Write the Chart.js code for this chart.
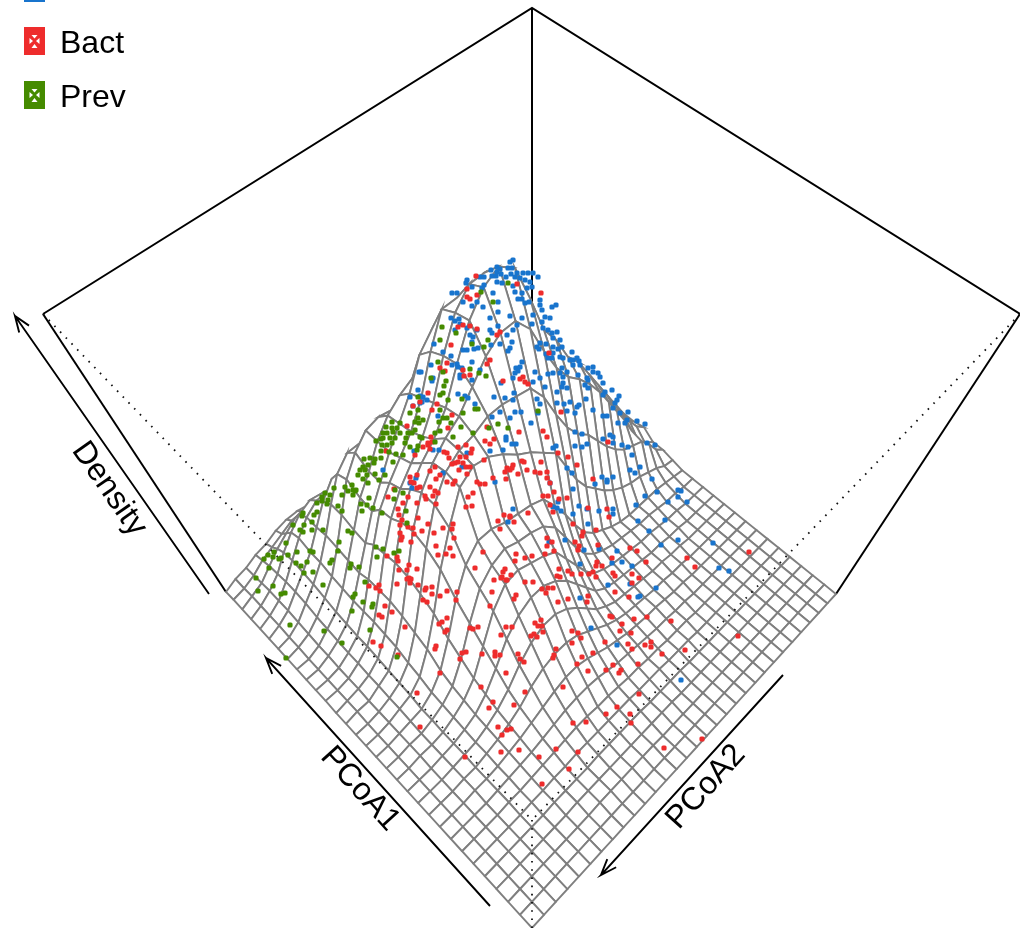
<!DOCTYPE html>
<html>
<head>
<meta charset="utf-8">
<style>
  html, body { margin: 0; padding: 0; background: #fff; overflow: hidden; }
  canvas { display: block; }
</style>
<script src="https://cdn.jsdelivr.net/npm/chart.js@4/dist/chart.umd.js"></script>
</head>
<body>
<canvas id="chart" width="1020" height="928"></canvas>
<script>
// Density surface, percent of the box height. Rows run along PCoA1, columns along PCoA2.
const densityRows = [
  [0,0,0,0,0,0,0,0,0,0,0,0,0,0,0,0,0,0,0,0,0,0,0,0,0,0,0,0,0,0,0],
  [0,0,0,0,0,0,0,0,0,0,0,0,0,0,0,0,0,0,0,0,0,0,0,0,0,0,0,0,0,0,0],
  [0,0,0,0,0,0,0,0,1,1,1,1,1,1,0,0,0,0,0,0,0,0,0,0,0,0,0,0,0,0,0],
  [0,0,0,0,0,0,0,1,1,1,1,1,1,1,1,1,1,0,0,0,0,0,0,0,0,0,0,0,0,0,0],
  [0,0,0,0,0,0,1,1,1,1,2,2,2,2,2,1,1,1,1,0,0,0,0,0,0,0,0,0,0,0,0],
  [0,0,0,0,0,1,1,2,2,3,3,3,3,3,3,2,2,2,1,1,1,0,0,0,0,0,0,0,0,0,0],
  [0,0,0,0,1,1,2,3,4,5,6,6,5,5,4,3,3,2,2,1,1,1,0,0,0,0,0,0,0,0,0],
  [0,0,0,0,1,2,3,4,6,8,10,11,11,10,8,6,5,4,3,2,2,1,1,0,0,0,0,0,0,0,0],
  [0,0,0,1,1,2,4,6,9,12,15,17,17,15,12,9,7,5,4,3,3,2,1,1,0,0,0,0,0,0,0],
  [0,0,0,1,1,3,5,8,12,18,22,24,24,22,18,14,10,7,5,4,3,2,2,1,1,0,0,0,0,0,0],
  [0,0,0,1,2,3,6,10,16,24,30,33,33,30,25,19,13,9,6,5,4,3,2,2,1,1,0,0,0,0,0],
  [0,0,0,1,2,4,7,13,22,32,38,41,41,38,33,26,19,12,8,6,5,4,3,2,2,1,1,0,0,0,0],
  [0,0,1,1,2,5,9,16,28,40,47,48,46,44,41,33,25,17,11,8,6,5,4,3,3,2,1,1,0,0,0],
  [0,0,1,1,3,6,11,21,34,45,50,52,50,49,47,42,33,24,16,11,8,6,5,4,3,3,2,1,1,0,0],
  [0,0,1,2,3,7,14,26,40,50,55,55,53,52,51,49,42,34,25,17,12,9,6,4,3,3,3,3,2,1,0],
  [0,0,1,3,5,10,20,33,48,60,70,73,72,69,65,62,58,54,45,36,29,24,19,15,12,10,9,7,5,2,1],
  [0,0,1,3,6,12,23,37,52,64,71,74,75,77,77,76,75,69,60,52,46,42,36,30,25,21,19,17,12,6,2],
  [0,1,1,4,7,15,26,40,54,64,70,74,77,82,87,90,90,85,76,68,62,58,53,47,40,33,26,18,10,5,2],
  [0,1,2,4,8,16,28,41,53,61,66,70,76,85,93,98,100,97,87,76,70,62,57,50,43,36,29,22,15,9,5],
  [1,1,2,5,9,17,28,40,50,57,62,67,74,84,92,96,96,92,84,74,68,60,55,49,42,35,28,21,14,8,4],
  [1,1,2,5,9,17,28,39,49,55,60,65,72,82,90,90,88,82,72,64,60,55,50,45,39,33,27,20,14,8,4],
  [1,1,3,6,10,17,26,35,44,51,58,64,70,78,82,80,74,68,58,52,50,47,44,41,37,33,28,22,16,10,5],
  [1,1,3,7,11,18,27,36,45,51,58,63,66,68,68,64,58,50,46,45,42,40,37,34,30,26,22,17,12,7,3],
  [1,2,4,8,13,19,28,38,48,54,58,59,58,57,54,50,45,38,35,35,32,29,26,23,20,17,13,10,6,4,2],
  [1,2,5,10,15,21,29,38,46,50,50,48,46,44,42,38,34,28,25,25,22,19,16,14,12,9,7,5,3,2,1],
  [1,3,6,11,16,21,28,35,40,40,38,36,34,32,30,27,23,19,16,14,12,10,8,7,5,4,3,2,1,1,0],
  [1,3,6,11,17,23,28,31,31,30,29,27,25,23,21,18,15,12,10,8,6,5,4,3,2,2,1,1,0,0,0],
  [1,3,6,10,16,21,25,27,26,24,22,20,18,16,14,12,10,8,6,4,3,2,1,1,0,0,0,0,0,0,0],
  [1,3,5,9,13,16,19,20,19,17,15,14,12,11,9,8,6,5,4,3,2,1,1,0,0,0,0,0,0,0,0],
  [1,2,4,7,9,11,13,13,12,11,10,9,8,7,6,5,4,3,2,2,1,1,0,0,0,0,0,0,0,0,0],
  [0,2,3,5,6,8,9,9,8,8,7,6,5,4,4,3,2,2,1,1,1,0,0,0,0,0,0,0,0,0,0]
];

// Samples, read as positions on the viewing plane
const bluePoints = [[513,260],[510,262],[491,270],[497,267],[497,272],[500,269],[508,268],[512,268],[517,273],[523,273],[528,273],[533,273],[538,277],[480,277],[484,277],[492,276],[496,276],[501,274],[506,277],[511,274],[515,277],[520,278],[525,280],[530,282],[532,287],[502,283],[497,282],[484,285],[482,288],[472,287],[467,280],[466,283],[515,292],[527,288],[522,293],[513,286],[493,293],[477,302],[463,302],[452,293],[457,293],[483,307],[472,306],[518,299],[522,299],[525,303],[529,302],[498,302],[498,312],[490,318],[540,300],[540,305],[542,310],[545,317],[550,318],[552,307],[556,305],[533,315],[532,324],[510,316],[522,318],[517,325],[513,330],[498,326],[490,330],[492,333],[542,322],[543,328],[548,330],[552,333],[557,332],[553,338],[560,340],[451,318],[455,321],[459,319],[460,324],[455,330],[467,328],[477,330],[470,335],[473,337],[472,342],[434,344],[507,335],[512,342],[500,344],[491,345],[540,343],[546,344],[537,347],[539,349],[553,347],[562,347],[558,349],[560,357],[563,358],[572,352],[510,348],[508,351],[463,350],[467,350],[474,349],[478,348],[443,352],[451,356],[546,354],[548,358],[552,358],[553,353],[570,360],[573,360],[577,358],[579,361],[573,365],[580,365],[472,362],[522,362],[431,365],[457,364],[452,365],[458,367],[462,368],[480,370],[472,380],[460,375],[460,378],[419,372],[421,372],[516,368],[520,367],[518,371],[515,373],[535,372],[548,374],[553,373],[562,368],[560,373],[567,372],[563,377],[588,368],[593,367],[593,372],[598,373],[600,377],[578,375],[587,378],[588,380],[603,383],[585,385],[588,388],[605,392],[612,390],[619,396],[603,395],[513,378],[501,383],[533,382],[540,378],[545,387],[563,383],[567,388],[562,387],[557,392],[433,378],[432,381],[418,390],[410,397],[420,396],[423,397],[422,402],[427,400],[458,394],[465,396],[468,398],[475,404],[494,397],[505,398],[513,400],[514,393],[537,399],[540,404],[557,403],[564,404],[570,402],[577,407],[579,405],[593,410],[586,399],[617,400],[615,403],[613,408],[620,413],[628,412],[637,421],[627,420],[625,423],[645,424],[618,423],[607,416],[603,416],[567,411],[575,413],[500,412],[515,412],[521,412],[492,417],[510,418],[538,413],[438,416],[413,406],[420,403],[531,423],[575,432],[582,434],[506,437],[506,440],[512,444],[516,444],[575,446],[582,447],[587,444],[553,448],[556,446],[603,439],[610,435],[613,437],[613,443],[622,445],[628,447],[647,443],[655,445],[503,450],[490,451],[467,453],[439,450],[433,450],[414,451],[632,455],[640,467],[630,470],[635,473],[567,468],[572,473],[595,484],[602,477],[607,480],[613,477],[652,479],[573,489],[645,496],[657,492],[678,490],[383,470],[416,478],[412,488],[410,483],[443,473],[462,467],[495,482],[550,483],[607,482],[681,491],[678,497],[668,502],[687,502],[558,502],[553,507],[557,508],[561,511],[579,506],[587,509],[599,511],[613,509],[613,514],[636,505],[513,509],[573,514],[508,522],[588,524],[638,521],[665,520],[649,531],[565,540],[549,542],[678,540],[661,545],[713,543],[584,550],[599,549],[617,551],[580,564],[612,563],[622,562],[632,566],[719,568],[729,571],[608,585],[630,584],[656,588],[580,598],[638,597],[640,596],[591,628],[617,645],[681,680]];
const bactPoints = [[476,276],[517,284],[467,289],[477,295],[541,293],[467,297],[470,299],[458,327],[463,325],[470,326],[477,329],[500,332],[497,335],[451,345],[549,353],[490,360],[487,364],[447,363],[440,368],[445,371],[463,370],[464,376],[470,375],[503,381],[520,379],[523,377],[525,382],[528,384],[428,393],[420,402],[437,404],[432,410],[413,406],[452,415],[561,412],[448,428],[487,427],[519,432],[543,431],[547,437],[407,426],[485,441],[490,444],[494,439],[466,445],[458,447],[472,449],[471,453],[431,437],[432,442],[428,445],[423,447],[430,449],[415,455],[444,452],[447,453],[449,458],[460,457],[466,457],[463,463],[458,462],[455,463],[452,464],[466,467],[470,467],[484,460],[558,453],[568,457],[577,465],[541,462],[522,461],[524,462],[513,465],[507,468],[505,472],[510,470],[512,468],[527,470],[535,472],[540,473],[547,472],[518,474],[506,479],[493,478],[477,482],[480,484],[485,484],[455,481],[447,482],[453,484],[467,474],[459,470],[440,475],[436,479],[430,471],[435,467],[417,475],[410,477],[411,482],[414,483],[420,487],[417,488],[394,489],[430,487],[435,491],[438,493],[388,497],[408,497],[426,499],[468,497],[473,493],[543,496],[548,496],[554,492],[559,499],[567,498],[547,478],[550,483],[593,479],[608,442],[386,451],[428,443],[403,503],[398,509],[399,515],[417,503],[425,496],[433,496],[436,504],[418,518],[428,524],[402,520],[400,525],[408,527],[413,528],[422,531],[400,533],[402,537],[414,534],[401,540],[411,542],[434,533],[443,528],[452,529],[453,524],[454,538],[466,507],[472,506],[498,521],[504,515],[500,529],[510,517],[436,546],[450,548],[438,555],[446,554],[453,556],[483,552],[387,556],[397,557],[398,561],[475,568],[399,570],[407,570],[409,565],[417,569],[503,572],[502,577],[494,580],[507,580],[409,578],[407,579],[411,579],[410,583],[397,584],[369,586],[379,585],[376,588],[380,591],[418,585],[426,588],[432,587],[425,590],[432,594],[440,596],[447,591],[457,592],[492,592],[423,600],[427,602],[456,600],[490,606],[385,606],[392,612],[379,615],[382,617],[447,618],[442,622],[439,624],[405,627],[447,630],[445,632],[470,628],[473,629],[478,627],[506,627],[501,635],[373,642],[381,646],[436,646],[435,649],[466,652],[462,653],[460,659],[482,654],[495,652],[495,656],[500,655],[398,655],[440,673],[506,673],[481,687],[417,693],[493,702],[489,708],[420,727],[498,727],[507,730],[502,735],[550,505],[553,512],[588,508],[607,509],[609,517],[510,516],[528,513],[514,522],[573,524],[596,530],[583,532],[582,536],[547,538],[552,542],[547,546],[575,542],[579,546],[578,550],[598,545],[554,551],[630,548],[637,551],[545,554],[516,554],[525,558],[532,556],[515,561],[612,558],[597,562],[596,566],[602,566],[646,562],[687,558],[749,552],[695,567],[559,569],[568,571],[572,574],[581,574],[589,574],[593,572],[596,577],[613,573],[615,576],[632,574],[639,578],[557,576],[560,577],[505,569],[501,578],[511,575],[506,580],[525,582],[533,582],[632,583],[542,589],[548,588],[553,588],[546,593],[516,595],[514,599],[615,592],[629,597],[588,596],[587,602],[568,599],[558,602],[610,616],[612,617],[634,619],[647,617],[671,621],[622,624],[541,620],[535,623],[538,626],[542,626],[512,627],[543,632],[572,631],[578,633],[581,638],[620,631],[631,633],[534,634],[531,636],[537,637],[572,643],[605,642],[628,644],[645,645],[651,642],[651,647],[632,649],[685,650],[738,636],[662,654],[556,649],[593,653],[582,657],[518,654],[520,659],[524,662],[554,655],[553,658],[577,664],[613,665],[638,664],[588,671],[606,670],[621,670],[619,673],[563,687],[525,692],[639,694],[514,705],[617,707],[606,714],[630,714],[631,723],[573,723],[586,722],[511,729],[702,739],[556,749],[664,748],[519,750],[578,752],[539,757],[465,757],[501,752],[569,769],[542,784]];
const prevPoints = [[481,292],[508,283],[493,302],[442,327],[456,333],[440,340],[488,340],[484,347],[472,344],[438,362],[470,369],[479,373],[486,376],[443,372],[446,381],[444,386],[431,378],[440,395],[443,393],[448,400],[462,399],[418,397],[440,410],[410,413],[418,410],[443,418],[447,418],[439,422],[451,423],[463,413],[475,409],[478,409],[538,411],[498,424],[508,428],[489,428],[461,427],[473,433],[453,437],[418,418],[415,422],[419,423],[423,420],[392,422],[400,423],[386,427],[392,428],[397,428],[393,432],[400,433],[383,433],[387,433],[412,433],[415,430],[408,433],[440,431],[435,433],[420,437],[422,438],[395,438],[390,438],[383,438],[406,438],[376,441],[381,439],[392,443],[382,445],[387,445],[405,443],[410,447],[418,446],[417,450],[435,442],[381,451],[389,452],[396,454],[403,455],[364,459],[370,458],[375,459],[381,458],[368,465],[374,463],[393,462],[363,467],[360,470],[365,470],[358,475],[367,475],[363,479],[375,474],[385,475],[379,480],[368,483],[345,487],[352,485],[353,490],[348,491],[355,491],[395,490],[403,493],[369,498],[334,488],[356,490],[353,495],[342,495],[330,495],[325,493],[322,497],[328,500],[322,501],[317,503],[327,504],[338,506],[361,504],[367,505],[373,508],[362,511],[342,511],[382,513],[394,499],[317,512],[314,515],[303,513],[302,516],[312,522],[293,525],[304,525],[300,530],[303,532],[312,530],[323,530],[348,531],[352,533],[406,511],[407,523],[339,542],[286,543],[376,547],[383,549],[394,553],[399,551],[377,557],[338,551],[274,552],[310,551],[313,552],[297,552],[288,555],[268,555],[273,557],[281,558],[264,559],[279,559],[332,560],[330,563],[296,563],[307,562],[301,566],[351,564],[359,567],[350,568],[269,568],[304,573],[313,572],[256,578],[365,582],[323,585],[273,586],[258,591],[285,593],[281,594],[355,594],[353,597],[363,602],[373,604],[372,607],[352,611],[290,625],[324,631],[370,630],[342,643],[397,657],[286,658]];

// Legend and axis text
const legendLabels = ['Bact', 'Prev'];
const axisTitles = ['Density', 'PCoA1', 'PCoA2'];

const BLUE = '#1874cd', RED = '#ee2c2c', GREEN = '#458b00', MESH = '#7f7f7f';

// Perspective of the box: u along PCoA1, v along PCoA2, w up
function project(u, v, w) {
    const d = 1 + 0.184 * (u + v) - 0.437 * w;
    return {
        x: (532 - 264.4 * u + 457.8 * v - 232.5 * w) / d,
        y: (928 - 227.1 * u - 224.7 * v - 466.3 * w) / d
    };
}

const cells = densityRows.length - 1;
function node(i, j) {
    return project(i / cells, j / cells, densityRows[i][j] / 100);
}

function lineSet(points, width, extra) {
    return Object.assign({
        data: points.map(p => ({ x: p[0], y: p[1] })),
        showLine: true,
        fill: false,
        pointRadius: 0,
        borderColor: '#000',
        borderWidth: width
    }, extra);
}

function arrowSet(x0, y0, x1, y1) {
    const angle = Math.atan2(y0 - y1, x0 - x1);
    const barb = s => [x1 + 17 * Math.cos(angle + s * 0.36), y1 + 17 * Math.sin(angle + s * 0.36)];
    return lineSet([[x0, y0], [x1, y1], barb(1), [x1, y1], barb(-1)], 1.9);
}

function scatterSet(points, color) {
    return {
        data: points.map(p => ({ x: p[0], y: p[1] })),
        pointStyle: 'rectRounded',
        pointRadius: 3,
        borderWidth: 0,
        backgroundColor: color,
        pointBackgroundColor: color
    };
}

// First dataset ends up on top, so front items go first
const datasets = [
    scatterSet(prevPoints, GREEN),
    scatterSet(bactPoints, RED),
    scatterSet(bluePoints, BLUE)
];

const dots = { borderDash: [1.6, 6.6], borderColor: '#111' };
datasets.push(lineSet([[43, 314], [532, 820]], 1.8, dots));
datasets.push(lineSet([[1020, 314], [532, 820]], 1.8, dots));
datasets.push(lineSet([[532, 820], [532, 928]], 1.8, dots));

datasets.push(arrowSet(209, 594, 15, 316));
datasets.push(arrowSet(490, 906, 266, 658));
datasets.push(arrowSet(783, 675, 601, 875));

// Surface cells, nearest corner first so the far ones are painted under them
for (let sum = 0; sum <= 2 * (cells - 1); sum++) {
    for (let i = 0; i < cells; i++) {
        const j = sum - i;
        if (j < 0 || j >= cells) continue;
        const a = node(i, j), b = node(i + 1, j), c = node(i + 1, j + 1), d = node(i, j + 1);
        datasets.push({
            data: [a, b, c, d, a],
            showLine: true,
            fill: 'shape',
            backgroundColor: '#fff',
            borderColor: MESH,
            borderWidth: 1.9,
            pointRadius: 0
        });
    }
}

// Back edges of the box
datasets.push(lineSet([[43, 314], [532, 8], [1020, 314]], 2));
datasets.push(lineSet([[532, 8], [532, 360]], 2));
datasets.push(lineSet([[43, 314], [226, 592]], 2));
datasets.push(lineSet([[1020, 314], [836, 594]], 2));

function drawKey(ctx, y, color) {
    ctx.fillStyle = color;
    ctx.fillRect(24, y, 21, 28);
    ctx.fillStyle = '#fff';
    const cx = 34.5, cy = y + 14;
    [[[-3, -6], [3, -6], [0, -2.5]], [[-3, 7], [3, 7], [0, 3]], [[-5, -3], [-5, 3], [-1.5, 0]], [[5, -3], [5, 3], [1.5, 0]]].forEach(t => {
        ctx.beginPath();
        t.forEach((p, n) => n ? ctx.lineTo(cx + p[0], cy + p[1]) : ctx.moveTo(cx + p[0], cy + p[1]));
        ctx.closePath();
        ctx.fill();
    });
}

function drawTitle(ctx, text, x, y, degrees) {
    ctx.save();
    ctx.translate(x, y);
    ctx.rotate(degrees * Math.PI / 180);
    ctx.textAlign = 'center';
    ctx.textBaseline = 'middle';
    ctx.fillText(text, 0, 0);
    ctx.restore();
}

const figureText = {
    id: 'figureText',
    afterDraw(chart) {
        const ctx = chart.ctx;
        ctx.save();
        ctx.fillStyle = BLUE;
        ctx.fillRect(24, -26, 21, 28);
        drawKey(ctx, 27, RED);
        drawKey(ctx, 81, GREEN);
        ctx.fillStyle = '#000';
        ctx.font = '32px "Liberation Sans"';
        ctx.textAlign = 'left';
        ctx.textBaseline = 'alphabetic';
        ctx.fillText(legendLabels[0], 60, 53);
        ctx.fillText(legendLabels[1], 60, 107);
        drawTitle(ctx, axisTitles[0], 109, 489, 55);
        drawTitle(ctx, axisTitles[1], 360, 789, 48);
        drawTitle(ctx, axisTitles[2], 706, 787, -48);
        ctx.restore();
    }
};

new Chart(document.getElementById('chart').getContext('2d'), {
    type: 'scatter',
    data: { datasets },
    options: {
        responsive: false,
        animation: false,
        layout: { padding: 0, autoPadding: false },
        events: [],
        scales: {
            x: { type: 'linear', min: 0, max: 1020, display: false },
            y: { type: 'linear', min: 0, max: 928, reverse: true, display: false }
        },
        plugins: { legend: { display: false }, tooltip: { enabled: false } }
    },
    plugins: [figureText]
});
</script>
</body>
</html>
